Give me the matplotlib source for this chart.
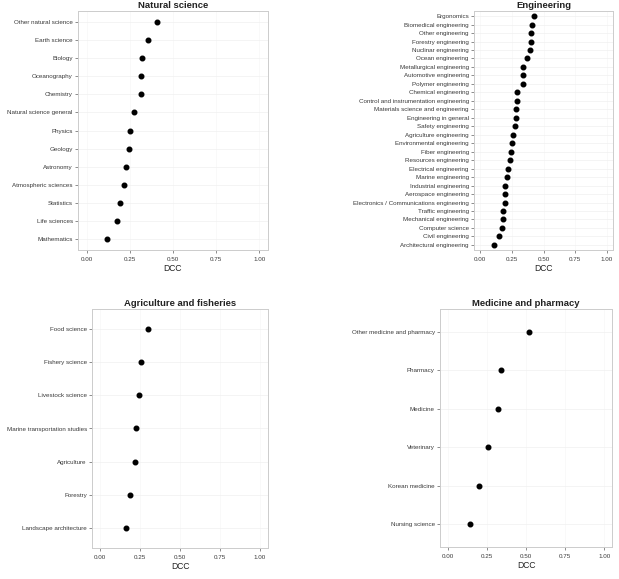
import numpy as np
import matplotlib
matplotlib.use('Agg')
import matplotlib.pyplot as plt

plt.rcParams['font.family'] = ['Liberation Sans', 'DejaVu Sans']

# categories listed top to bottom, with DCC values
nat_labels = ['Other natural science', 'Earth science', 'Biology', 'Oceanography',
              'Chemistry', 'Natural science general', 'Physics', 'Geology',
              'Astronomy', 'Atmospheric sciences', 'Statistics', 'Life sciences',
              'Mathematics']
nat_vals = [0.407, 0.355, 0.318, 0.314, 0.312, 0.272, 0.251, 0.247,
            0.228, 0.218, 0.195, 0.175, 0.118]

eng_labels = ['Ergonomics', 'Biomedical engineering', 'Other engineering',
              'Forestry engineering', 'Nuclinar engineering', 'Ocean engineering',
              'Metallurgical engineering', 'Automotive engineering',
              'Polymer engineering', 'Chemical engineering',
              'Control and instrumentation engineering',
              'Materials science and engineering', 'Engineering in general',
              'Safety engineering', 'Agriculture engineering',
              'Environmental engineering', 'Fiber engineering',
              'Resources engineering', 'Electrical engineering',
              'Marine engineering', 'Industrial engineering',
              'Aerospace engineering', 'Electronics / Communications engineering',
              'Traffic engineering', 'Mechanical engineering', 'Computer science',
              'Civil engineering', 'Architectural engineering']
eng_vals = [0.424, 0.411, 0.403, 0.398, 0.393, 0.372, 0.341, 0.339, 0.336,
            0.292, 0.289, 0.284, 0.282, 0.276, 0.258, 0.253, 0.245, 0.238,
            0.220, 0.214, 0.199, 0.196, 0.194, 0.181, 0.176, 0.173, 0.147,
            0.109]

agr_labels = ['Food science', 'Fishery science', 'Livestock science',
              'Marine transportation studies', 'Agriculture', 'Forestry',
              'Landscape architecture']
agr_vals = [0.299, 0.257, 0.246, 0.224, 0.220, 0.187, 0.163]

med_labels = ['Other medicine and pharmacy', 'Pharmacy', 'Medicine',
              'Veterinary', 'Korean medicine', 'Nursing science']
med_vals = [0.520, 0.338, 0.321, 0.254, 0.199, 0.144]

xticks = [0.0, 0.25, 0.5, 0.75, 1.0]
xticklabels = ['0.00', '0.25', '0.50', '0.75', '1.00']

W, H = 619, 579
fig = plt.figure(figsize=(W / 100, H / 100), dpi=100)
fig.patch.set_facecolor('white')


def box(l, r, t, b):
    return [l / W, 1 - b / H, (r - l) / W, (b - t) / H]


def panel(rect, title, labels, vals):
    ax = fig.add_axes(rect)
    n = len(labels)
    y = np.arange(n, 0, -1)
    ax.set_axisbelow(True)
    ax.grid(axis='y', color='#f0f0f0', lw=0.5)
    ax.grid(axis='x', color='#f7f7f7', lw=0.5)
    ax.plot(vals, y, 'o', color='black', ms=3.3, zorder=3)
    ax.set_xlim(-0.05, 1.05)
    ax.set_ylim(0.4, n + 0.6)
    ax.set_yticks(y)
    ax.set_yticklabels(labels)
    ax.set_xticks(xticks)
    ax.set_xticklabels(xticklabels)
    ax.tick_params(axis='both', labelsize=4.5, labelcolor='#3a3a3a',
                   color='#7a7a7a', length=2.2, width=0.6, pad=1.5)
    ax.tick_params(axis='x', pad=2.5)
    for s in ax.spines.values():
        s.set_color('#cccccc')
        s.set_linewidth(0.7)
    ax.set_xlabel('DCC', fontsize=6.2, color='#222222', labelpad=1.5)
    ax.set_title(title, fontsize=6.8, fontweight='bold', color='#222222', pad=2)
    return ax


panel(box(78, 268, 11, 250), 'Natural science', nat_labels, nat_vals)
panel(box(474, 613, 11, 250), 'Engineering', eng_labels, eng_vals)
panel(box(92, 268, 309, 548), 'Agriculture and fisheries', agr_labels, agr_vals)
panel(box(440, 612, 309, 547), 'Medicine and pharmacy', med_labels, med_vals)

fig.savefig('out.png', dpi=100, facecolor='white')
